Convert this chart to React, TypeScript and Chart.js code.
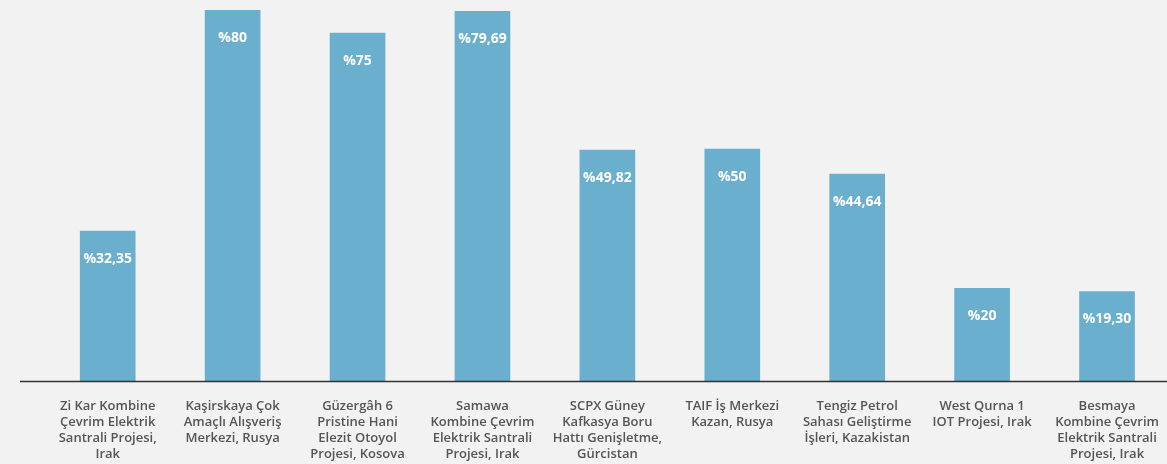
import React, { useEffect, useRef } from "react";
import { Chart, registerables } from "chart.js";

Chart.register(...registerables);

const categories: string[][] = [
  ["Zi Kar Kombine", "Çevrim Elektrik", "Santrali Projesi,", "Irak"],
  ["Kaşirskaya Çok", "Amaçlı Alışveriş", "Merkezi, Rusya"],
  ["Güzergâh 6", "Pristine Hani", "Elezit Otoyol", "Projesi, Kosova"],
  ["Samawa", "Kombine Çevrim", "Elektrik Santrali", "Projesi, Irak"],
  ["SCPX Güney", "Kafkasya Boru", "Hattı Genişletme,", "Gürcistan"],
  ["TAIF İş Merkezi", "Kazan, Rusya"],
  ["Tengiz Petrol", "Sahası Geliştirme", "İşleri, Kazakistan"],
  ["West Qurna 1", "IOT Projesi, Irak"],
  ["Besmaya", "Kombine Çevrim", "Elektrik Santrali", "Projesi, Irak"],
];

const values: number[] = [32.35, 80, 75, 79.69, 49.82, 50, 44.64, 20, 19.3];

const valueLabels: string[] = [
  "%32,35",
  "%80",
  "%75",
  "%79,69",
  "%49,82",
  "%50",
  "%44,64",
  "%20",
  "%19,30",
];

const FONT = "'Open Sans', 'DejaVu Sans', sans-serif";

const valueLabelPlugin = {
  id: "valueLabels",
  afterDatasetsDraw(chart: any) {
    const ctx = chart.ctx;
    const meta = chart.getDatasetMeta(0);
    ctx.save();
    ctx.fillStyle = "#ffffff";
    ctx.font = `bold 14px ${FONT}`;
    ctx.textAlign = "center";
    ctx.textBaseline = "middle";
    meta.data.forEach((bar: any, i: number) => {
      ctx.fillText(valueLabels[i], bar.x, bar.y + 28);
    });
    ctx.restore();
  },
};

const axisLinePlugin = {
  id: "axisLine",
  afterDatasetsDraw(chart: any) {
    const ctx = chart.ctx;
    const y = chart.chartArea.bottom + 0.5;
    ctx.save();
    ctx.strokeStyle = "#333333";
    ctx.lineWidth = 1.5;
    ctx.beginPath();
    ctx.moveTo(20, y);
    ctx.lineTo(chart.width, y);
    ctx.stroke();
    ctx.restore();
  },
};

export default function App() {
  const canvasRef = useRef<HTMLCanvasElement | null>(null);

  useEffect(() => {
    if (!canvasRef.current) return;
    const chart = new Chart(canvasRef.current, {
      type: "bar",
      data: {
        labels: categories,
        datasets: [
          {
            data: values,
            backgroundColor: "#6aafcd",
            borderWidth: 0,
            barThickness: 55,
          },
        ],
      },
      options: {
        responsive: false,
        animation: false,
        maintainAspectRatio: false,
        layout: { padding: { left: 45.25, right: 1.25, top: 10, bottom: 0 } },
        plugins: {
          legend: { display: false },
          tooltip: { enabled: false },
        },
        scales: {
          y: {
            display: false,
            min: 0,
            max: 80,
          },
          x: {
            grid: { display: false, drawTicks: false },
            border: { display: false },
            afterFit: (s: any) => {
              s.height = 83;
            },
            ticks: {
              color: "#555555",
              padding: 17,
              autoSkip: false,
              maxRotation: 0,
              font: { family: FONT, size: 13, weight: "600", lineHeight: 1.23 },
            },
          },
        },
      },
      plugins: [valueLabelPlugin, axisLinePlugin],
    });
    return () => chart.destroy();
  }, []);

  return (
    <div
      style={{
        position: "fixed",
        left: 0,
        top: 0,
        width: 1167,
        height: 464,
        overflow: "hidden",
        background: "#f2f2f2",
      }}
    >
      <canvas ref={canvasRef} width={1176} height={464} style={{ display: "block" }} />
    </div>
  );
}
